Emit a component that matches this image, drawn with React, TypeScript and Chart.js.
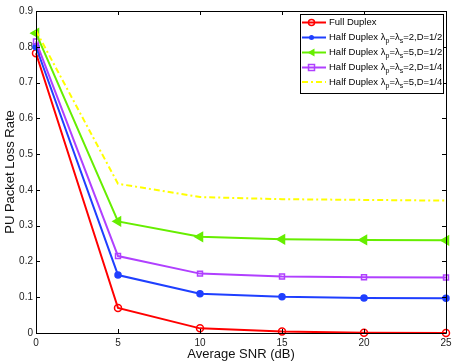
import React, { useEffect, useRef } from "react";
import { Chart, registerables } from "chart.js";

Chart.register(...registerables);

const snr = [0, 5, 10, 15, 20, 25];
const fullDuplex = [0.782, 0.070, 0.013, 0.004, 0.001, 0.0];
const hd2half = [0.800, 0.162, 0.110, 0.101, 0.098, 0.097];
const hd5half = [0.838, 0.312, 0.269, 0.262, 0.260, 0.259];
const hd2quarter = [0.815, 0.215, 0.166, 0.158, 0.156, 0.155];
const hd5quarter = [0.845, 0.417, 0.380, 0.374, 0.372, 0.370];
const xTicks = [0, 5, 10, 15, 20, 25];
const yTicks = [0, 0.1, 0.2, 0.3, 0.4, 0.5, 0.6, 0.7, 0.8, 0.9];

const FONT = "'Liberation Sans', Arial, Helvetica, sans-serif";

type LegendItem = {
  color: string;
  marker: string;
  dash: number[];
  parts: { t: string; sub?: boolean }[];
};

const legendItems: LegendItem[] = [
  { color: "#ff0000", marker: "circle", dash: [], parts: [{ t: "Full Duplex" }] },
  {
    color: "#1f3fff", marker: "dot", dash: [],
    parts: [{ t: "Half Duplex λ" }, { t: "p", sub: true }, { t: "=λ" }, { t: "s", sub: true }, { t: "=2,D=1/2" }],
  },
  {
    color: "#66ee00", marker: "tri", dash: [],
    parts: [{ t: "Half Duplex λ" }, { t: "p", sub: true }, { t: "=λ" }, { t: "s", sub: true }, { t: "=5,D=1/2" }],
  },
  {
    color: "#b040ff", marker: "square", dash: [],
    parts: [{ t: "Half Duplex λ" }, { t: "p", sub: true }, { t: "=λ" }, { t: "s", sub: true }, { t: "=2,D=1/4" }],
  },
  {
    color: "#ffff00", marker: "none", dash: [6, 3, 2, 3],
    parts: [{ t: "Half Duplex λ" }, { t: "p", sub: true }, { t: "=λ" }, { t: "s", sub: true }, { t: "=5,D=1/4" }],
  },
];

const framePlugin = {
  id: "frame",
  afterDraw(chart: any) {
    const { ctx, chartArea } = chart;
    const { left, right, top, bottom } = chartArea;
    const xs = chart.scales.x;
    const ys = chart.scales.y;
    ctx.save();
    ctx.strokeStyle = "#000";
    ctx.lineWidth = 1;
    ctx.setLineDash([]);
    ctx.beginPath();
    ctx.rect(Math.round(left) + 0.5, Math.round(top) + 0.5, Math.round(right - left), Math.round(bottom - top));
    ctx.stroke();
    const tl = 4;
    ctx.beginPath();
    xTicks.forEach((v) => {
      const px = Math.round(xs.getPixelForValue(v)) + 0.5;
      ctx.moveTo(px, bottom);
      ctx.lineTo(px, bottom - tl);
      ctx.moveTo(px, top);
      ctx.lineTo(px, top + tl);
    });
    yTicks.forEach((v) => {
      const py = Math.round(ys.getPixelForValue(v)) + 0.5;
      ctx.moveTo(left, py);
      ctx.lineTo(left + tl, py);
      ctx.moveTo(right, py);
      ctx.lineTo(right - tl, py);
    });
    ctx.stroke();

    // legend
    const bx = 300.5, by = 14.5, bw = 143, bh = 79;
    ctx.fillStyle = "#fff";
    ctx.fillRect(bx, by, bw, bh);
    ctx.strokeStyle = "#000";
    ctx.strokeRect(bx, by, bw, bh);
    const rowY = [22.5, 37.5, 52.5, 67.5, 82];
    legendItems.forEach((it, i) => {
      const y = rowY[i];
      ctx.strokeStyle = it.color;
      ctx.fillStyle = it.color;
      ctx.lineWidth = 2;
      ctx.setLineDash(it.dash);
      ctx.beginPath();
      ctx.moveTo(302, y);
      ctx.lineTo(326, y);
      ctx.stroke();
      ctx.setLineDash([]);
      const mx = 311.5;
      ctx.lineWidth = 1.5;
      if (it.marker === "circle") {
        ctx.beginPath();
        ctx.arc(mx, y, 3, 0, Math.PI * 2);
        ctx.stroke();
      } else if (it.marker === "dot") {
        ctx.beginPath();
        ctx.arc(mx, y, 2.5, 0, Math.PI * 2);
        ctx.fill();
      } else if (it.marker === "tri") {
        ctx.beginPath();
        ctx.moveTo(mx - 4, y);
        ctx.lineTo(mx + 3, y - 4);
        ctx.lineTo(mx + 3, y + 4);
        ctx.closePath();
        ctx.fill();
      } else if (it.marker === "square") {
        ctx.strokeRect(mx - 3, y - 3, 6, 6);
      }
      ctx.fillStyle = "#000";
      ctx.textBaseline = "middle";
      ctx.textAlign = "left";
      let tx = 329;
      it.parts.forEach((p) => {
        ctx.font = (p.sub ? "7px " : "9.5px ") + FONT;
        ctx.fillText(p.t, tx, p.sub ? y + 4 : y);
        tx += ctx.measureText(p.t).width;
      });
    });
    ctx.restore();
  },
};

export default function App() {
  const ref = useRef<HTMLCanvasElement | null>(null);
  useEffect(() => {
    if (!ref.current) return;
    const mk = (label: string, data: number[], color: string, extra: any) => ({
      label,
      data: snr.map((x, i) => ({ x, y: data[i] })),
      borderColor: color,
      backgroundColor: color,
      borderWidth: 2,
      pointBorderColor: color,
      pointBorderWidth: 1.5,
      clip: false,
      ...extra,
    });
    const chart = new Chart(ref.current, {
      type: "line",
      data: {
        datasets: [
          mk("Half Duplex λp=λs=5,D=1/4", hd5quarter, "#ffff00", { borderDash: [6, 3, 2, 3], pointRadius: 0 }),
          mk("Half Duplex λp=λs=5,D=1/2", hd5half, "#66ee00", { pointStyle: "triangle", pointRotation: -90, pointRadius: 5, pointBackgroundColor: "#66ee00" }),
          mk("Half Duplex λp=λs=2,D=1/4", hd2quarter, "#b040ff", { pointStyle: "rect", pointRadius: 3.5, pointBackgroundColor: "rgba(0,0,0,0)" }),
          mk("Half Duplex λp=λs=2,D=1/2", hd2half, "#1f3fff", { pointStyle: "circle", pointRadius: 3, pointBackgroundColor: "#1f3fff" }),
          mk("Full Duplex", fullDuplex, "#ff0000", { pointStyle: "circle", pointRadius: 3.5, pointBackgroundColor: "rgba(0,0,0,0)" }),
        ],
      },
      options: {
        animation: false,
        responsive: false,
        maintainAspectRatio: false,
        layout: { padding: { top: 11, right: 11, left: 0, bottom: 0 } },
        plugins: { legend: { display: false }, tooltip: { enabled: false } },
        scales: {
          x: {
            type: "linear",
            min: 0,
            max: 25,
            afterBuildTicks: (s: any) => { s.ticks = xTicks.map((v) => ({ value: v })); },
            afterFit: (s: any) => { s.height = 30; },
            grid: { display: false, drawTicks: false },
            border: { display: false },
            ticks: { color: "#222", font: { family: FONT, size: 10 }, padding: 4, maxRotation: 0 },
            title: { display: true, text: "Average SNR (dB)", color: "#111", font: { family: FONT, size: 13 }, padding: { top: 0, bottom: 1 } },
          },
          y: {
            type: "linear",
            min: 0,
            max: 0.9,
            afterBuildTicks: (s: any) => { s.ticks = yTicks.map((v) => ({ value: v })); },
            afterFit: (s: any) => { s.width = 36; },
            grid: { display: false, drawTicks: false },
            border: { display: false },
            ticks: { color: "#222", font: { family: FONT, size: 10 }, padding: 3, callback: (v: any) => String(Math.round(v * 10) / 10) },
            title: { display: true, text: "PU Packet Loss Rate", color: "#111", font: { family: FONT, size: 13 }, padding: { top: 3, bottom: 0 } },
          },
        },
      },
      plugins: [framePlugin],
    } as any);
    return () => chart.destroy();
  }, []);
  return (
    <div style={{ position: "fixed", left: 0, top: 0, width: 457, height: 363, background: "#fff" }}>
      <canvas ref={ref} width={457} height={363} style={{ width: 457, height: 363 }} />
    </div>
  );
}
